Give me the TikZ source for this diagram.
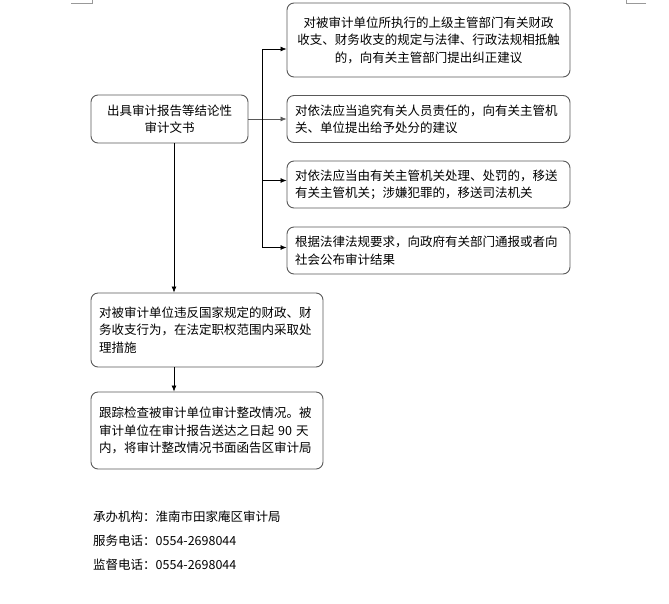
\documentclass[tikz,border=0pt]{standalone}
\usepackage{fontspec}
\usepackage{tikz}
\usetikzlibrary{arrows.meta}
\usetikzlibrary{positioning}
\newfontfamily\cjk{Noto Sans CJK SC}
\definecolor{mgray}{rgb}{0.35, 0.35, 0.35}
\definecolor{lgray}{rgb}{0.6, 0.6, 0.6}
\tikzset{box/.style = {draw = mgray, line width = 0.9pt, rounded corners = 7pt,
    font = \cjk\fontsize{12.5}{17.5}\selectfont, inner xsep = 8pt, inner ysep = 0pt}}
\tikzset{arr/.style = {-{Latex[length = 6pt, width = 5pt]}, line width = 0.7pt}}
\tikzset{note/.style = {anchor = west, inner sep = 0, font = \cjk\fontsize{12.5}{15}\selectfont}}

\begin{document}
\begin{tikzpicture}[x = 1pt, y = -1pt]
    \useasboundingbox (0, 0) rectangle (669, 603);

    % page marks
    \draw [lgray, line width = 0.6pt] (71, 3) -- (92, 3) -- (92, 0);
    \draw [lgray, line width = 0.6pt] (646, 3) -- (626, 3) -- (626, 0);

    \node [box, align = center, minimum width = 157pt, minimum height = 48pt, text width = 141pt]
        (report) at (169.5, 119) {出具审计报告等结论性\\审计文书};

    \node [box, align = center, minimum width = 283pt, minimum height = 74pt, text width = 267pt]
        (correct) at (428.5, 40) {对被审计单位所执行的上级主管部门有关财政\\收支、财务收支的规定与法律、行政法规相抵触\\的，向有关主管部门提出纠正建议};
    \node [box, align = left, minimum width = 283pt, minimum height = 47pt, text width = 267pt]
        (punish) at (428.5, 119) {对依法应当追究有关人员责任的，向有关主管机\\关、单位提出给予处分的建议};
    \node [box, align = left, minimum width = 283pt, minimum height = 47pt, text width = 267pt]
        (transfer) at (428.5, 184.5) {对依法应当由有关主管机关处理、处罚的，移送\\有关主管机关；涉嫌犯罪的，移送司法机关};
    \node [box, align = left, minimum width = 283pt, minimum height = 47pt, text width = 267pt]
        (publish) at (428.5, 250.5) {根据法律法规要求，向政府有关部门通报或者向\\社会公布审计结果};

    \node [box, align = left, minimum width = 232pt, minimum height = 74pt, text width = 216pt]
        (measure) at (207, 330) {对被审计单位违反国家规定的财政、财\\务收支行为，在法定职权范围内采取处\\理措施};
    \node [box, align = left, minimum width = 232pt, minimum height = 77pt, text width = 216pt]
        (track) at (207, 430.5) {跟踪检查被审计单位审计整改情况。被\\审计单位在审计报告送达之日起 90 天\\内，将审计整改情况书面函告区审计局};

    \coordinate (bus) at (262, 0);
    \coordinate (down) at (174, 0);

    \draw [arr, draw = mgray] (report.east) -- (punish.west);
    \draw [arr] (report.east -| bus) |- ([yshift = -9pt] correct.west);
    \draw [arr] (report.east -| bus) |- ([yshift = 4pt] transfer.west);
    \draw [arr] (report.east -| bus) |- ([yshift = 3pt] publish.west);

    \draw [arr] (report.south -| down) -- (measure.north -| down);
    \draw [arr] (measure.south -| down) -- (track.north -| down);

    \node [note] (office) at (93, 517) {承办机构：淮南市田家庵区审计局};
    \node [note] (service) at (93, 541) {服务电话：0554-2698044};
    \node [note] (supervise) at (93, 565) {监督电话：0554-2698044};
  \end{tikzpicture}
\end{document}
